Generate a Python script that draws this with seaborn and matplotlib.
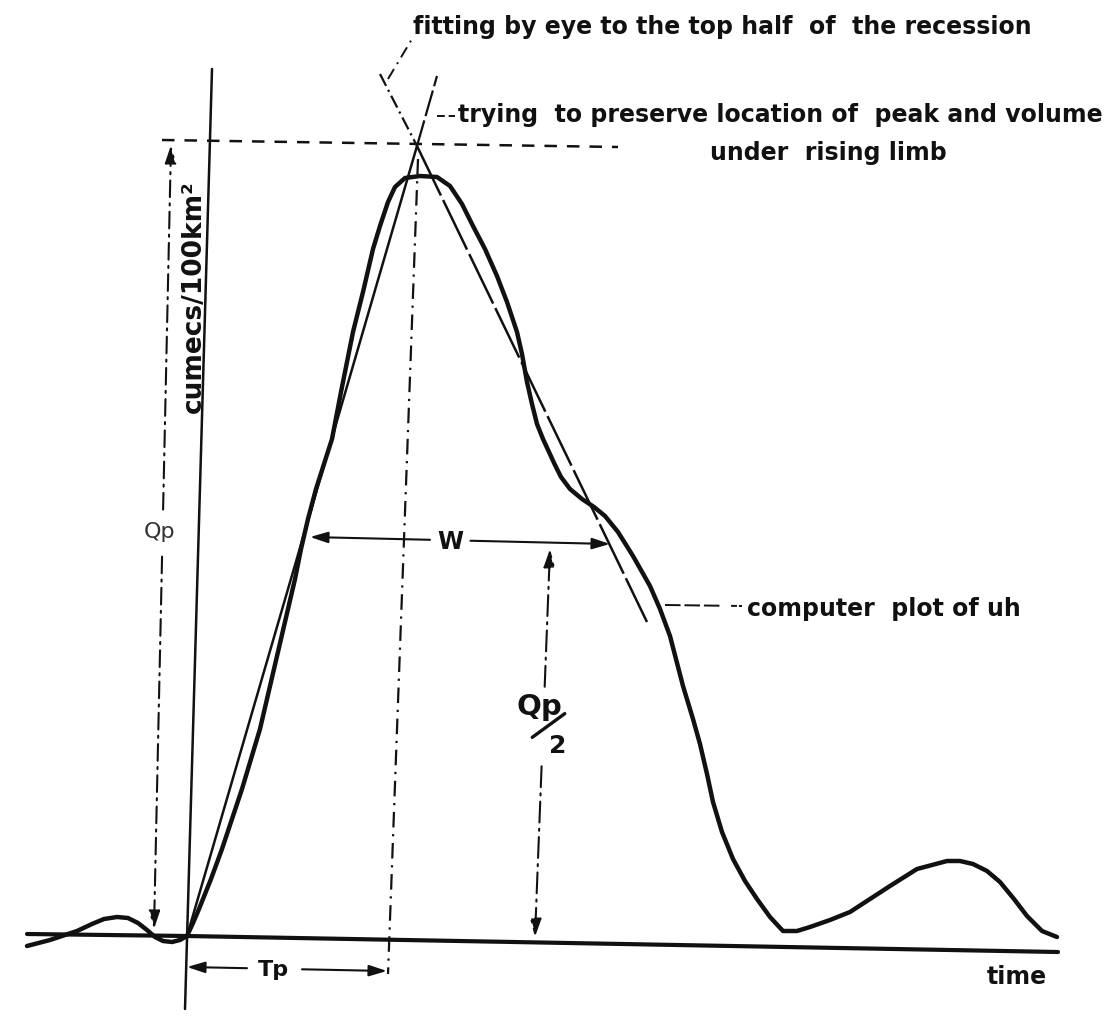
import matplotlib
matplotlib.use("Agg")
import matplotlib.pyplot as plt
import seaborn as sns

# Unit hydrograph ordinates: time from start of rise, discharge (drawing units)
uh_time = [-160, -137, -110, -95, -83, -70, -59, -49, -40, -32, -24, -15, -7, 0,
           6, 12, 18, 24, 35, 45, 55, 64, 73, 80, 87, 94, 101, 108, 114, 121,
           129, 137, 145, 154, 166, 176, 186, 193, 201, 208, 218, 233, 250, 263,
           275, 286, 298, 310, 320, 330, 335, 340, 345, 350, 356, 362, 368, 374,
           383, 395, 407, 418, 431, 446, 463, 473, 483, 496, 506, 513, 520, 526,
           535, 546, 558, 570, 583, 596, 610, 623, 643, 663, 683, 703, 730, 760,
           773, 786, 800, 813, 827, 840, 855, 870]
uh_flow = [-10, -4, 5, 12, 17, 19, 18, 13, 6, -1, -5, -6, -4, 0,
           13, 27, 42, 57, 87, 117, 147, 177, 207, 237, 267, 297, 327, 357, 387,
           417, 447, 472, 497, 544, 604, 644, 687, 710, 734, 749, 758, 760, 759,
           750, 732, 710, 687, 660, 634, 604, 582, 554, 532, 512, 497, 484, 471,
           459, 447, 437, 429, 420, 404, 380, 350, 327, 300, 250, 217, 192, 162,
           134, 104, 77, 55, 37, 19, 5, 5, 9, 16, 24, 37, 50, 67, 75, 75, 72, 65,
           54, 37, 20, 5, -1]

# Triangular approximation: start, peak (Tp, Qp) and end of the fitted recession
tri_time = [0, 230, 460]
tri_flow = [0, 790, 314]
# construction lines carried above the peak
rise_ext_time = [230, 250]
rise_ext_flow = [790, 860]
fall_ext_time = [193, 230]
fall_ext_flow = [862, 790]

# Reference lines
base_time = [-160, 0, 871]
base_flow = [2, 0, -16]
axis_time = [25, -2]
axis_flow = [867, -73]
peak_line_time = [-25, 431]
peak_line_flow = [796, 789]
tp_line_time = [231, 201]
tp_line_flow = [777, -38]

# Dimension arrows (tail, head)
qp_arrow_time = [-33, -16]
qp_arrow_flow = [7, 791]
half_arrow_time = [348, 363]
half_arrow_flow = [-1, 387]
w_arrow_time = [123, 423]
w_arrow_flow = [399, 392]
tp_arrow_time = [0, 200]
tp_arrow_flow = [-31, -35]

sns.set_theme(style="white")
plt.rcParams['font.family'] = ['DejaVu Sans']

fig = plt.figure(figsize=(11.06, 10.2), dpi=100)
ax = fig.add_axes([0, 0, 1, 1])
ax.set_xlim(-187, 919)
ax.set_ylim(-83, 937)
ax.axis('off')

INK = '#111111'


def line(x, y, lw, ls='-'):
    sns.lineplot(x=x, y=y, sort=False, estimator=None, ax=ax, color=INK,
                 linewidth=lw, linestyle=ls, solid_capstyle='round',
                 solid_joinstyle='round', dash_capstyle='butt')


# axes of the sketch
line(base_time, base_flow, 3.0)
line(axis_time, axis_flow, 1.8)

# construction lines
line(peak_line_time, peak_line_flow, 1.8, (0, (5, 4)))
line(tp_line_time, tp_line_flow, 1.6, (0, (7, 3, 1, 3)))

# triangle
line(tri_time[:2], tri_flow[:2], 1.8)
line(tri_time[1:], tri_flow[1:], 1.8, (0, (22, 2)))
line(rise_ext_time, rise_ext_flow, 1.6, (0, (12, 2)))
line(fall_ext_time, fall_ext_flow, 1.6, (0, (6, 2, 1, 2)))

# computed unit hydrograph
line(uh_time, uh_flow, 3.2)


def point_on(xs, ys, frac):
    return xs[0] + frac * (xs[1] - xs[0]), ys[0] + frac * (ys[1] - ys[0])


def arrow(xs, ys, f0, f1, head_at_end, ls='-', lw=1.5):
    """Draw the part of a dimension line between fractions f0 and f1."""
    p0 = point_on(xs, ys, f0)
    p1 = point_on(xs, ys, f1)
    tail, tip = (p0, p1) if head_at_end else (p1, p0)
    ax.annotate('', xy=tip, xytext=tail,
                arrowprops=dict(arrowstyle='-|>,head_length=0.9,head_width=0.28',
                                color=INK, lw=lw, linestyle=ls,
                                shrinkA=0, shrinkB=0))


# Qp (vertical, broken by its label)
arrow(qp_arrow_time, qp_arrow_flow, 0.0, 0.475, False, ls=(0, (8, 3, 1, 3)))
arrow(qp_arrow_time, qp_arrow_flow, 0.535, 1.0, True, ls=(0, (8, 3, 1, 3)))
ax.text(-27, 405, 'Qp', fontsize=16, color='#333333', ha='center', va='center')

# Qp/2
arrow(half_arrow_time, half_arrow_flow, 0.0, 0.44, False, ls=(0, (10, 3, 1, 3)))
arrow(half_arrow_time, half_arrow_flow, 0.645, 1.0, True, ls=(0, (10, 3, 1, 3)))
ax.text(352, 230, 'Qp', fontsize=21, fontweight='bold', color=INK,
        ha='center', va='center')
ax.text(371, 191, '2', fontsize=18, fontweight='bold', color=INK,
        ha='center', va='center')
ax.annotate('', xy=(380, 224), xytext=(343, 197),
            arrowprops=dict(arrowstyle='-', color=INK, lw=2.4))

# W
arrow(w_arrow_time, w_arrow_flow, 0.0, 0.40, False)
arrow(w_arrow_time, w_arrow_flow, 0.535, 1.0, True)
ax.text(263, 395, 'W', fontsize=17, fontweight='bold', color=INK,
        ha='center', va='center')

# Tp
arrow(tp_arrow_time, tp_arrow_flow, 0.0, 0.30, False)
arrow(tp_arrow_time, tp_arrow_flow, 0.575, 1.0, True)
ax.text(86, -33, 'Tp', fontsize=16, fontweight='bold', color=INK,
        ha='center', va='center')

# notes
note = dict(fontsize=17, fontweight='bold', color=INK, va='center', ha='left')
ax.text(226, 910, 'fitting by eye to the top half  of  the recession', **note)
line([201, 225], [857, 897], 1.4, (0, (6, 3, 1, 3)))

line([250, 268], [820, 820], 1.4, (0, (4, 2)))
ax.text(271, 822, 'trying  to preserve location of  peak and volume', **note)
ax.text(523, 784, 'under  rising limb', **note)

line([478, 555], [331, 330], 1.4, (0, (8, 2, 8, 2, 8, 6, 3, 1)))
ax.text(560, 328, 'computer  plot of uh', **note)

ax.text(800, -40, 'time', **note)

ax.text(7, 640, 'cumecs/100km²', fontsize=19, fontweight='bold', color=INK,
        rotation=90, ha='center', va='center')

fig.savefig('out.png', dpi=100, facecolor='white')
